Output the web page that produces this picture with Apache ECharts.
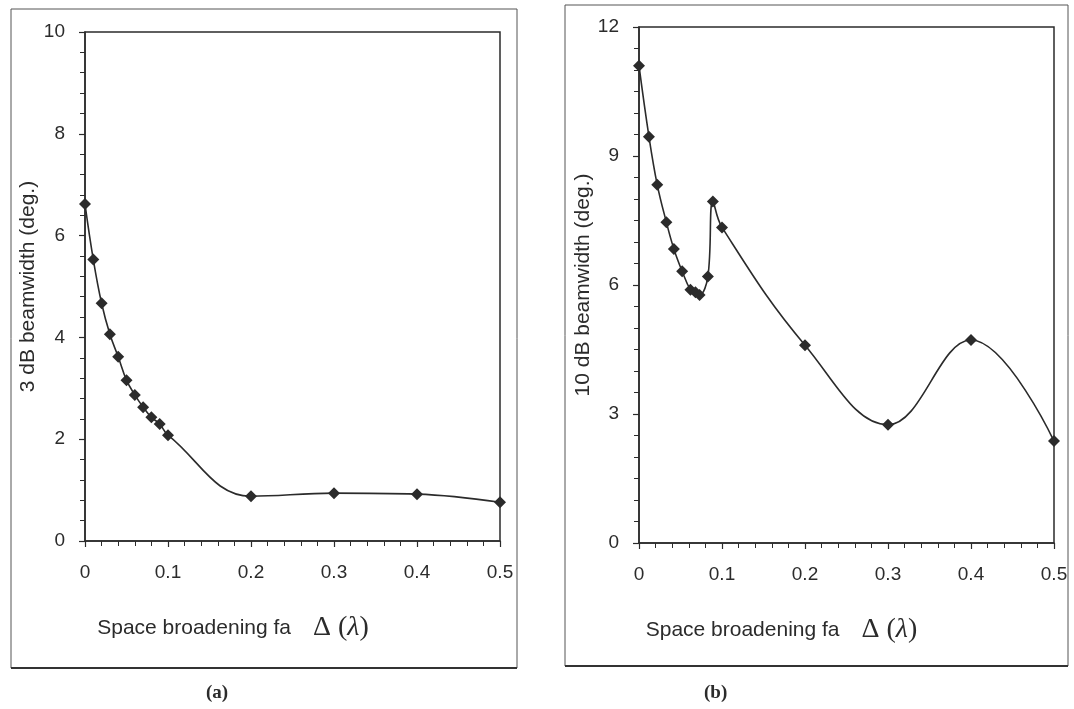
<!DOCTYPE html>
<html>
<head>
<meta charset="utf-8">
<title>Beamwidth vs space broadening</title>
<script src="https://cdn.jsdelivr.net/npm/echarts@6.0.0/dist/echarts.min.js"></script>
<style>
	html, body { margin: 0; padding: 0; background: #fff; }
	#myChart { width: 1074px; height: 709px; }
</style>
</head>
<body>
<div id="myChart"></div>
<script>
// (a) 3 dB beamwidth
var deltaA = [0, 0.01, 0.02, 0.03, 0.04, 0.05, 0.06, 0.07, 0.08, 0.09, 0.1, 0.2, 0.3, 0.4, 0.5];
var bw3dB = [6.62, 5.53, 4.67, 4.06, 3.62, 3.16, 2.87, 2.63, 2.43, 2.30, 2.08, 0.88, 0.94, 0.92, 0.76];

// (b) 10 dB beamwidth
var deltaB = [0, 0.012, 0.022, 0.033, 0.042, 0.052, 0.062, 0.068, 0.073, 0.083, 0.089, 0.1, 0.2, 0.3, 0.4, 0.5];
var bw10dB = [11.1, 9.45, 8.33, 7.46, 6.84, 6.32, 5.89, 5.83, 5.77, 6.2, 7.94, 7.34, 4.6, 2.75, 4.72, 2.37];

var xTicks = ['0', '0.1', '0.2', '0.3', '0.4', '0.5'];
var panelLabels = ['(a)', '(b)'];
var yNames = ['3 dB beamwidth (deg.)', '10 dB beamwidth (deg.)'];

function pairs(xs, ys) {
	var out = [];
	for (var i = 0; i < xs.length; i++) out.push([xs[i], ys[i]]);
	return out;
}

var ink = '#2b2b2b';
var sans = '"Liberation Sans", Arial, sans-serif';
var serif = '"Liberation Serif", "Times New Roman", serif';

function xAxisFor(idx, padRight) {
	return {
		type: 'value',
		gridIndex: idx,
		min: 0,
		max: 0.5,
		interval: 0.1,
		name: '{t|Space broadening fa}{dd|Δ (}{l|λ}{d|)}',
		nameLocation: 'middle',
		nameGap: 73,
		nameTextStyle: {
			padding: [0, padRight, 0, 0],
			rich: {
				t: { fontFamily: sans, fontSize: 21, color: ink },
				dd: { fontFamily: serif, fontSize: 28, color: ink, padding: [0, 0, 0, 22] },
				d: { fontFamily: serif, fontSize: 28, color: ink },
				l: { fontFamily: serif, fontSize: 28, fontStyle: 'italic', color: ink }
			}
		},
		axisLine: { show: true, onZero: false, lineStyle: { color: ink, width: 1.5 } },
		axisTick: { show: true, length: 6, lineStyle: { color: ink, width: 1.2 } },
		minorTick: { show: true, splitNumber: 5, length: 5, lineStyle: { color: ink, width: 1 } },
		splitLine: { show: false },
		axisLabel: {
			margin: 22,
			fontFamily: sans,
			fontSize: 19,
			color: ink,
			formatter: function (v) {
				var k = Math.round(v * 10);
				return xTicks[k];
			}
		}
	};
}

function yAxisFor(idx, max, step, minorSplit, gap) {
	return {
		type: 'value',
		gridIndex: idx,
		min: 0,
		max: max,
		interval: step,
		name: yNames[idx],
		nameLocation: 'middle',
		nameGap: gap,
		nameTextStyle: { fontFamily: sans, fontSize: 21, color: ink },
		axisLine: { show: true, onZero: false, lineStyle: { color: ink, width: 1.5 } },
		axisTick: { show: true, length: 6, lineStyle: { color: ink, width: 1.2 } },
		minorTick: { show: true, splitNumber: minorSplit, length: 5, lineStyle: { color: ink, width: 1 } },
		splitLine: { show: false },
		axisLabel: { margin: 20, fontFamily: sans, fontSize: 19, color: ink }
	};
}

function seriesFor(idx, xs, ys) {
	return {
		type: 'line',
		xAxisIndex: idx,
		yAxisIndex: idx,
		data: pairs(xs, ys),
		smooth: 0.4,
		symbol: 'diamond',
		symbolSize: 12,
		itemStyle: { color: ink },
		lineStyle: { color: ink, width: 1.6 },
		silent: true,
		animation: false
	};
}

var option = {
	backgroundColor: '#ffffff',
	animation: false,
	grid: [
		{ left: 85, top: 32, width: 415, height: 509, show: true, borderColor: ink, borderWidth: 1.5, backgroundColor: 'transparent' },
		{ left: 639, top: 27, width: 415, height: 516, show: true, borderColor: ink, borderWidth: 1.5, backgroundColor: 'transparent' }
	],
	xAxis: [xAxisFor(0, 119), xAxisFor(1, 130)],
	yAxis: [yAxisFor(0, 10, 2, 5, 46), yAxisFor(1, 12, 3, 6, 43)],
	series: [seriesFor(0, deltaA, bw3dB), seriesFor(1, deltaB, bw10dB)],
	graphic: [
		// chart area frames
		{ type: 'rect', shape: { x: 11, y: 9, width: 506, height: 659 }, style: { fill: 'none', stroke: '#555', lineWidth: 1 }, silent: true },
		{ type: 'line', shape: { x1: 11, y1: 668, x2: 517, y2: 668 }, style: { stroke: '#333', lineWidth: 2 }, silent: true },
		{ type: 'rect', shape: { x: 565, y: 5, width: 503, height: 661 }, style: { fill: 'none', stroke: '#555', lineWidth: 1 }, silent: true },
		{ type: 'line', shape: { x1: 565, y1: 666, x2: 1068, y2: 666 }, style: { stroke: '#333', lineWidth: 2 }, silent: true },
		{ type: 'text', left: 206, top: 684, style: { text: panelLabels[0], fontFamily: serif, fontWeight: 'bold', fontSize: 19, fill: ink }, silent: true },
		{ type: 'text', left: 704, top: 684, style: { text: panelLabels[1], fontFamily: serif, fontWeight: 'bold', fontSize: 19, fill: ink }, silent: true }
	]
};

var myChart = echarts.init(document.getElementById('myChart'), null, { renderer: 'canvas' });
myChart.setOption(option);
</script>
</body>
</html>
